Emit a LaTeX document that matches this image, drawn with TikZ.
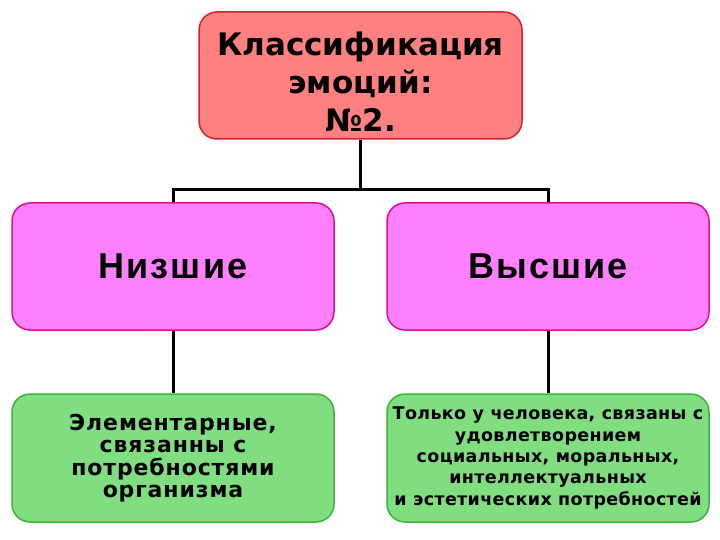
\documentclass[tikz,border=0pt]{standalone}
\usepackage{fontspec}
\setmainfont{DejaVu Sans}
\newfontfamily\arialb[LetterSpace=6]{Liberation Sans}
\newfontfamily\dvb[LetterSpace=4]{DejaVu Sans}
\newfontfamily\dvs[LetterSpace=2]{DejaVu Sans}
\definecolor{topfill}{HTML}{FF8080}
\definecolor{topdraw}{HTML}{D8202C}
\definecolor{midfill}{HTML}{FF80FF}
\definecolor{middraw}{HTML}{E0108C}
\definecolor{lowfill}{HTML}{80DD80}
\definecolor{lowdraw}{HTML}{3CB43C}
\tikzset{
  box/.style={rectangle, rounded corners=18pt, line width=1.5pt, inner sep=2pt, align=center, text=black},
  topbox/.style={box, fill=topfill, draw=topdraw, minimum width=323pt, minimum height=127pt},
  midbox/.style={box, fill=midfill, draw=middraw, minimum width=322pt, minimum height=127pt},
  lowbox/.style={box, fill=lowfill, draw=lowdraw, minimum width=322pt, minimum height=128pt},
  conn/.style={line width=3pt, draw=black}
}
\begin{document}
\begin{tikzpicture}[x=1pt,y=-1pt]
\useasboundingbox (0,0) rectangle (720,540);
\fill[white] (0,0) rectangle (720,540);
\coordinate (j) at (360,190);
\node[topbox] (top) at (360.5,75.5) {};
\node[midbox] (low) at (173,266.5) {};
\node[midbox] (high) at (548,266.5) {};
\node[lowbox] (lowd) at (173,458) {};
\node[lowbox] (highd) at (548,458) {};
\draw[conn] (top.south) -- (top.south |- j);
\draw[conn] (low.north) |- (high.north |- j) -- (high.north);
\draw[conn] (low.south) -- (lowd.north);
\draw[conn] (high.south) -- (highd.north);
\node[box, font={\fontsize{31}{38}\selectfont\bfseries}] at ([yshift=-6pt]top) {Классификация\\эмоций:\\№2.};
\node[box, font={\arialb\fontsize{36}{40}\selectfont\bfseries}] at (low) {Низшие};
\node[box, font={\arialb\fontsize{36}{40}\selectfont\bfseries}] at (high) {Высшие};
\node[box, font={\dvb\fontsize{22}{22.5}\selectfont\bfseries}] at (lowd) {Элементарные,\\связанны с\\потребностями\\организма};
\node[box, font={\dvs\fontsize{17.5}{21.3}\selectfont\bfseries}] at (highd) {Только у человека, связаны с\\удовлетворением\\социальных, моральных,\\интеллектуальных\\и эстетических потребностей};
\end{tikzpicture}
\end{document}
